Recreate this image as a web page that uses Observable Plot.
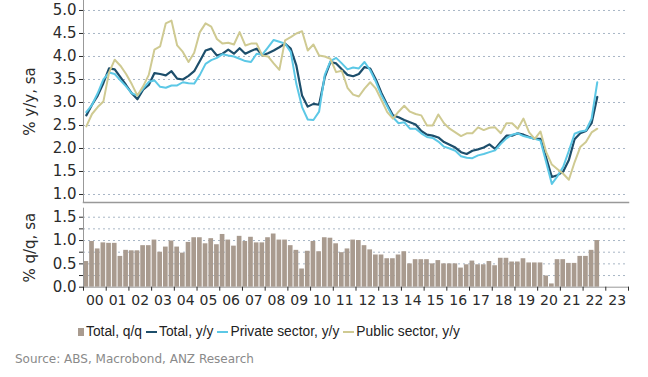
<!DOCTYPE html>
<html>
<head>
<meta charset="utf-8">
<script src="https://cdn.jsdelivr.net/npm/d3@7"></script>
<script src="https://cdn.jsdelivr.net/npm/@observablehq/plot@0.6"></script>
<style>
  html, body { margin: 0; padding: 0; background: #fff; }
  #wrap { position: relative; width: 648px; height: 377px; background: #fff; overflow: hidden; }
  #topChart, #bottomChart { position: absolute; left: 0; }
  #topChart { top: 0; }
  #bottomChart { top: 207px; }
  #legend { position: absolute; left: 78px; top: 324px; font-family: "Liberation Sans", Arial, sans-serif; font-size: 13.8px; color: #222; display: flex; align-items: center; white-space: nowrap; }
  #legend .sq { display: inline-block; width: 6px; height: 8px; margin-right: 2px; }
  #legend .ln { display: inline-block; width: 11px; height: 2px; margin-right: 2px; margin-left: 4px; }
  #source { position: absolute; left: 15px; top: 352px; font-family: "DejaVu Sans", sans-serif; font-size: 12px; color: #8a8a8a; white-space: nowrap; }
</style>
</head>
<body>
<div id="wrap">
  <div id="topChart"></div>
  <div id="bottomChart"></div>
  <div id="legend"></div>
  <div id="source">Source: ABS, Macrobond, ANZ Research</div>
</div>
<script>
(function () {
// ---- Data (quarterly, 2000 Q1 .. 2022 Q3) ----
const startYear = 2000;
const totalYY = [2.72,2.95,3.15,3.42,3.74,3.72,3.55,3.38,3.2,3.07,
  3.28,3.38,3.64,3.62,3.59,3.68,3.52,3.5,3.58,3.68,
  3.9,4.13,4.17,4.02,4.06,4.15,4.06,4.18,4.06,4.12,
  4.17,4.02,4.07,4.13,4.2,4.28,4.17,3.8,3.15,2.91,
  2.97,2.95,3.55,3.88,3.85,3.72,3.6,3.57,3.62,3.77,
  3.74,3.5,3.2,2.95,2.72,2.68,2.62,2.57,2.52,2.38,
  2.3,2.28,2.24,2.14,2.08,2.02,1.92,1.88,1.95,1.98,
  2.02,2.09,1.99,2.14,2.28,2.28,2.33,2.3,2.25,2.21,
  2.21,1.8,1.38,1.42,1.5,1.75,2.2,2.33,2.38,2.55,3.12];
const privateYY = [2.79,2.95,3.2,3.5,3.65,3.62,3.48,3.35,3.2,3.15,
  3.3,3.45,3.48,3.34,3.32,3.37,3.37,3.44,3.42,3.41,
  3.6,3.84,3.92,3.97,4.05,4.02,4.0,3.95,3.9,3.88,
  4.06,4.04,4.2,4.36,4.32,4.28,4.1,3.4,2.9,2.63,
  2.62,2.8,3.6,3.9,3.97,3.85,3.72,3.76,3.74,3.88,
  3.7,3.45,3.15,2.92,2.68,2.55,2.57,2.43,2.43,2.33,
  2.25,2.23,2.15,2.04,2.0,1.95,1.83,1.8,1.79,1.85,
  1.88,1.92,1.96,2.1,2.22,2.3,2.33,2.27,2.24,2.21,
  2.17,1.7,1.23,1.4,1.6,1.95,2.32,2.37,2.39,2.65,3.44];
const publicYY = [2.48,2.75,2.9,3.02,3.65,3.93,3.8,3.62,3.4,3.15,
  3.35,3.6,4.15,4.22,4.72,4.78,4.24,4.1,3.88,4.08,
  4.53,4.72,4.65,4.38,4.28,4.3,4.26,4.53,4.24,4.28,
  4.28,4.02,4.0,3.85,3.71,4.35,4.42,4.5,4.55,4.13,
  4.26,4.02,4.0,3.95,3.66,3.69,3.32,3.17,3.13,3.3,
  3.44,3.3,3.05,2.79,2.65,2.8,2.93,2.8,2.75,2.72,
  2.5,2.5,2.74,2.55,2.43,2.35,2.27,2.33,2.33,2.46,
  2.4,2.45,2.46,2.33,2.55,2.55,2.43,2.65,2.35,2.21,
  2.37,1.92,1.65,1.55,1.45,1.32,1.7,2.03,2.14,2.35,2.43];
const totalQQ = [0.55,0.98,0.82,0.95,0.94,0.94,0.66,0.79,0.78,0.78,
  0.89,0.89,1.01,0.75,0.86,0.99,0.86,0.73,0.96,1.06,
  1.06,0.93,1.04,0.91,1.13,1.01,0.88,1.09,0.98,1.07,
  0.95,0.95,1.06,1.14,1.01,1.01,0.89,0.79,0.39,0.77,
  0.98,0.76,1.06,1.05,0.93,0.74,0.82,1.01,1.0,0.89,
  0.8,0.69,0.69,0.61,0.61,0.69,0.76,0.5,0.59,0.59,
  0.59,0.5,0.57,0.5,0.5,0.5,0.41,0.48,0.56,0.48,
  0.48,0.55,0.46,0.62,0.62,0.54,0.54,0.61,0.52,0.52,
  0.52,0.24,0.07,0.59,0.59,0.51,0.51,0.66,0.66,0.79,1.0];
const yTicksTop = [1.0,1.5,2.0,2.5,3.0,3.5,4.0,4.5,5.0];
const yTicksBottom = [0.0,0.5,1.0,1.5];
const yMinorBottom = [0.25,0.75,1.25];
const gridBottom = [0.25,0.5,0.75,1.0,1.25,1.5];
const yearTicks = d3.range(2000, 2025);
const yearLabels = d3.range(2000, 2024);

const seriesNames = ["Total, q/q", "Total, y/y", "Private sector, y/y", "Public sector, y/y"];
const colors = {bar: "#a99b8f", total: "#1d4e6b", private: "#5cc8e6", public: "#cfca92"};

// ---- Build rows ----
const rows = totalYY.map((v, i) => ({
  t0: startYear + i / 4,
  t1: startYear + (i + 1) / 4,
  tm: startYear + (i + 0.5) / 4,
  total: v, priv: privateYY[i], pub: publicYY[i], qq: totalQQ[i]
}));

const gridStyle = {stroke: "#a8b6c6", strokeOpacity: 1, strokeDasharray: "2,3"};
const fontStyle = {fontFamily: "DejaVu Sans, sans-serif", fontSize: "15px", color: "#2b2b2b", background: "transparent", overflow: "visible"};

const topPlot = Plot.plot({
  width: 648, height: 204,
  marginTop: 0, marginBottom: 2, marginLeft: 83, marginRight: 20,
  style: fontStyle,
  x: {domain: [2000, 2024], axis: null},
  y: {domain: [0.826, 5.217], axis: null},
  marks: [
    Plot.gridY(yTicksTop, gridStyle),
    Plot.axisY(yTicksTop, {tickSize: 4, tickPadding: 3, tickFormat: d3.format(".1f"),
      label: "% y/y, sa", labelAnchor: "center", labelArrow: "none", labelOffset: 59}),
    Plot.frame({anchor: "left", stroke: "#999"}),
    Plot.frame({anchor: "bottom", stroke: "#999", strokeWidth: 1.5}),
    Plot.line(rows, {x: "tm", y: "total", stroke: colors.total, strokeWidth: 2.2}),
    Plot.line(rows, {x: "tm", y: "priv", stroke: colors.private, strokeWidth: 2}),
    Plot.line(rows, {x: "tm", y: "pub", stroke: colors.public, strokeWidth: 2})
  ]
});
document.getElementById("topChart").append(topPlot);

const bottomPlot = Plot.plot({
  width: 648, height: 106,
  marginTop: 0.7, marginBottom: 26.3, marginLeft: 83, marginRight: 20,
  style: fontStyle,
  x: {domain: [2000, 2024], axis: null},
  y: {domain: [0, 1.693], axis: null},
  marks: [
    Plot.gridY(gridBottom, gridStyle),
    Plot.rectY(rows, {x1: "t0", x2: "t1", y: "qq", fill: colors.bar, insetLeft: 0.5, insetRight: 0.5}),
    Plot.axisY(yTicksBottom, {tickSize: 4, tickPadding: 3, tickFormat: d3.format(".1f"),
      label: "% q/q, sa", labelAnchor: "center", labelArrow: "none", labelOffset: 59}),
    Plot.axisY(yMinorBottom, {tickSize: 4, tickFormat: () => "", label: null}),
    Plot.frame({anchor: "left", stroke: "#999"}),
    Plot.frame({anchor: "bottom", stroke: "#999"}),
    Plot.axisX(yearTicks, {tickSize: 4, tickFormat: () => "", label: null}),
    Plot.axisX(yearLabels.map(y => y + 0.5), {tickSize: 0, tickPadding: 8, fontSize: 14,
      tickFormat: d => String(Math.floor(d) % 100).padStart(2, "0"), label: null})
  ]
});
document.getElementById("bottomChart").append(bottomPlot);

// ---- Legend ----
const legend = document.getElementById("legend");
const swatch = [colors.bar, colors.total, colors.private, colors.public];
seriesNames.forEach((name, i) => {
  const s = document.createElement("span");
  s.className = i === 0 ? "sq" : "ln";
  s.style.background = swatch[i];
  legend.append(s);
  const t = document.createElement("span");
  t.textContent = name;
  legend.append(t);
});
})();
</script>
</body>
</html>
